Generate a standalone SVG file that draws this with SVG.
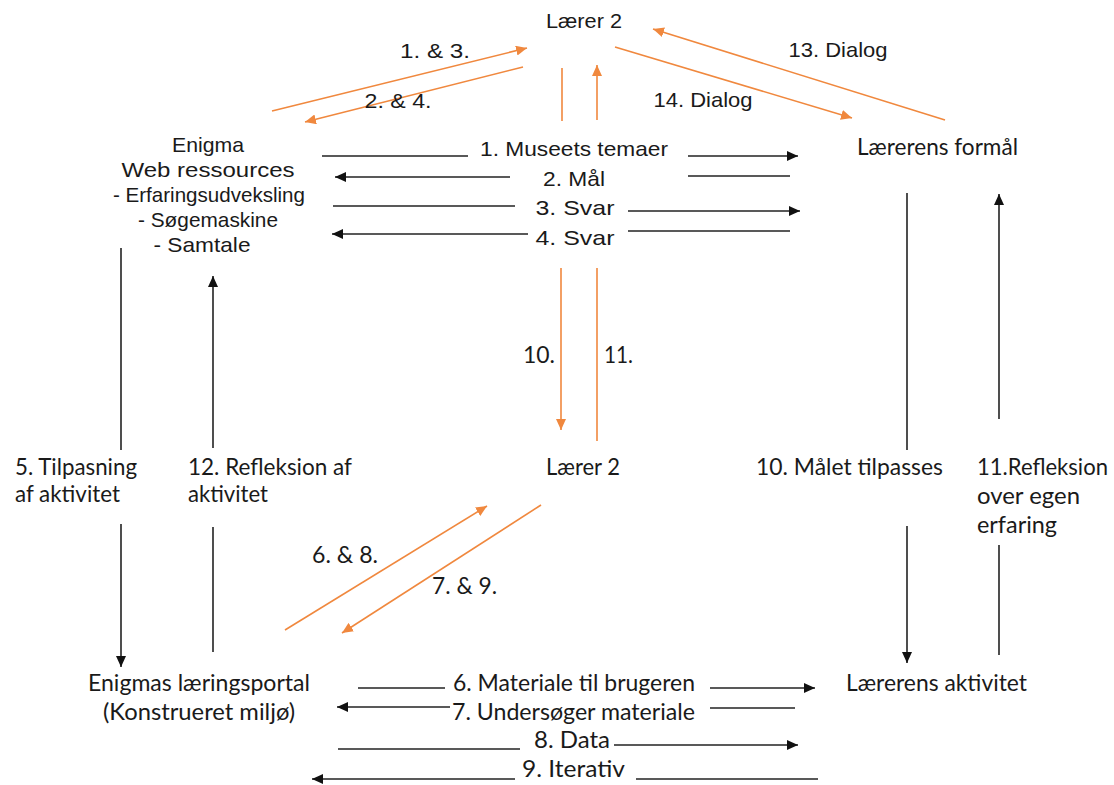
<svg xmlns="http://www.w3.org/2000/svg" width="1114" height="785" viewBox="0 0 1114 785">
<style>
.h{font-family:"Liberation Sans",Arial,sans-serif;font-size:21px;fill:#1a1a1a}
.c{font-family:Lato,"Open Sans",sans-serif;font-size:23px;fill:#1a1a1a}
.m{text-anchor:middle}
.k{stroke:#222;stroke-width:1.6;fill:none}
.o{stroke:#F0883E;stroke-width:1.6;fill:none}
.ak{marker-end:url(#ah)}
.ao{marker-end:url(#ahO)}
</style>
<defs>
<marker id="ah" markerUnits="userSpaceOnUse" markerWidth="12" markerHeight="10" refX="11" refY="5" orient="auto"><path d="M0,0 L11,5 L0,10 z" fill="#111"/></marker>
<marker id="ahO" markerUnits="userSpaceOnUse" markerWidth="12" markerHeight="10" refX="11" refY="5" orient="auto"><path d="M0,0 L11,5 L0,10 z" fill="#F0883E"/></marker>
</defs>
<rect width="1114" height="785" fill="#fff"/>

<g id="connectors">
  <line class="o ao" x1="272" y1="111" x2="527" y2="48"/>
  <line class="o ao" x1="523" y1="67" x2="305" y2="122"/>
  <line class="o" x1="562" y1="68" x2="562" y2="121"/>
  <line class="o ao" x1="597" y1="120" x2="597" y2="65"/>
  <line class="o ao" x1="615" y1="47" x2="852" y2="118"/>
  <line class="o ao" x1="945" y1="120" x2="653" y2="29"/>
  <line class="o ao" x1="561" y1="268" x2="561" y2="430"/>
  <line class="o" x1="597" y1="268" x2="597" y2="441"/>
  <line class="o ao" x1="285" y1="630" x2="487" y2="506"/>
  <line class="o ao" x1="541" y1="505" x2="342" y2="633"/>
  <line class="k" x1="322" y1="156" x2="468" y2="156"/>
  <line class="k ak" x1="688" y1="156" x2="798" y2="156"/>
  <line class="k ak" x1="510" y1="177" x2="335" y2="177"/>
  <line class="k" x1="688" y1="176" x2="790" y2="176"/>
  <line class="k" x1="333" y1="206" x2="515" y2="206"/>
  <line class="k ak" x1="628" y1="211" x2="800" y2="211"/>
  <line class="k ak" x1="528" y1="234" x2="332" y2="234"/>
  <line class="k" x1="628" y1="231" x2="790" y2="231"/>
  <line class="k" x1="121" y1="248" x2="121" y2="450"/>
  <line class="k ak" x1="213" y1="448" x2="213" y2="276"/>
  <line class="k" x1="907" y1="193" x2="907" y2="450"/>
  <line class="k ak" x1="999" y1="419" x2="999" y2="194"/>
  <line class="k ak" x1="121" y1="524" x2="121" y2="667"/>
  <line class="k" x1="213" y1="527" x2="213" y2="652"/>
  <line class="k ak" x1="907" y1="526" x2="907" y2="663"/>
  <line class="k" x1="999" y1="545" x2="999" y2="655"/>
  <line class="k" x1="358" y1="688" x2="445" y2="688"/>
  <line class="k ak" x1="710" y1="688" x2="815" y2="688"/>
  <line class="k ak" x1="450" y1="707" x2="337" y2="707"/>
  <line class="k" x1="710" y1="708" x2="795" y2="708"/>
  <line class="k" x1="338" y1="749" x2="520" y2="749"/>
  <line class="k ak" x1="614" y1="745" x2="798" y2="745"/>
  <line class="k ak" x1="515" y1="779" x2="312" y2="779"/>
  <line class="k" x1="636" y1="779" x2="818" y2="779"/>
</g>

<g id="edge-labels">
  <text class="h m" x="435" y="58" textLength="70" lengthAdjust="spacingAndGlyphs">1. &amp; 3.</text>
  <text class="h m" x="398" y="108" textLength="67" lengthAdjust="spacingAndGlyphs">2. &amp; 4.</text>
  <text class="h m" x="838" y="57" textLength="99" lengthAdjust="spacingAndGlyphs">13. Dialog</text>
  <text class="h m" x="703" y="107" textLength="99" lengthAdjust="spacingAndGlyphs">14. Dialog</text>
  <text class="h m" x="574" y="156" textLength="188" lengthAdjust="spacingAndGlyphs">1. Museets temaer</text>
  <text class="h m" x="574" y="186" textLength="62" lengthAdjust="spacingAndGlyphs">2. Mål</text>
  <text class="h m" x="575" y="215" textLength="79" lengthAdjust="spacingAndGlyphs">3. Svar</text>
  <text class="h m" x="575" y="245" textLength="79" lengthAdjust="spacingAndGlyphs">4. Svar</text>
  <text class="c" x="523" y="363" textLength="32" lengthAdjust="spacingAndGlyphs">10.</text>
  <text class="c" x="604" y="363" textLength="29" lengthAdjust="spacingAndGlyphs">11.</text>
  <text class="c" x="15" y="475" textLength="122" lengthAdjust="spacingAndGlyphs">5. Tilpasning</text>
  <text class="c" x="15" y="502" textLength="105" lengthAdjust="spacingAndGlyphs">af aktivitet</text>
  <text class="c" x="188" y="475" textLength="164" lengthAdjust="spacingAndGlyphs">12. Refleksion af</text>
  <text class="c" x="188" y="502" textLength="80" lengthAdjust="spacingAndGlyphs">aktivitet</text>
  <text class="c" x="756" y="475" textLength="187" lengthAdjust="spacingAndGlyphs">10. Målet tilpasses</text>
  <text class="c" x="977" y="475" textLength="131" lengthAdjust="spacingAndGlyphs">11.Refleksion</text>
  <text class="c" x="977" y="504" textLength="103" lengthAdjust="spacingAndGlyphs">over egen</text>
  <text class="c" x="977" y="533" textLength="80" lengthAdjust="spacingAndGlyphs">erfaring</text>
  <text class="c" x="312" y="563" textLength="66" lengthAdjust="spacingAndGlyphs">6. &amp; 8.</text>
  <text class="c" x="432" y="594" textLength="65" lengthAdjust="spacingAndGlyphs">7. &amp; 9.</text>
  <text class="c" x="453" y="691" textLength="242" lengthAdjust="spacingAndGlyphs">6. Materiale til brugeren</text>
  <text class="c" x="452" y="720" textLength="243" lengthAdjust="spacingAndGlyphs">7. Undersøger materiale</text>
  <text class="c" x="534" y="748" textLength="76" lengthAdjust="spacingAndGlyphs">8. Data</text>
  <text class="c" x="522" y="777" textLength="103" lengthAdjust="spacingAndGlyphs">9. Iterativ</text>
</g>

<g id="laerer2-top">
  <text class="h m" x="584" y="28" textLength="76" lengthAdjust="spacingAndGlyphs">Lærer 2</text>
</g>
<g id="enigma-web">
  <text class="h m" x="208" y="152" textLength="72" lengthAdjust="spacingAndGlyphs">Enigma</text>
  <text class="h m" x="208" y="177" textLength="173" lengthAdjust="spacingAndGlyphs">Web ressources</text>
  <text class="h m" x="209" y="202" textLength="192" lengthAdjust="spacingAndGlyphs">- Erfaringsudveksling</text>
  <text class="h m" x="208" y="227" textLength="140" lengthAdjust="spacingAndGlyphs">- Søgemaskine</text>
  <text class="h m" x="202" y="252" textLength="97" lengthAdjust="spacingAndGlyphs">- Samtale</text>
</g>
<g id="laererens-formaal">
  <text class="c" x="857" y="155" textLength="161" lengthAdjust="spacingAndGlyphs">Lærerens formål</text>
</g>
<g id="laerer2-mid">
  <text class="c" x="546" y="475" textLength="74" lengthAdjust="spacingAndGlyphs">Lærer 2</text>
</g>
<g id="enigmas-portal">
  <text class="c" x="88" y="691" textLength="222" lengthAdjust="spacingAndGlyphs">Enigmas læringsportal</text>
  <text class="c" x="103" y="720" textLength="192" lengthAdjust="spacingAndGlyphs">(Konstrueret miljø)</text>
</g>
<g id="laererens-aktivitet">
  <text class="c" x="846" y="691" textLength="181" lengthAdjust="spacingAndGlyphs">Lærerens aktivitet</text>
</g>
</svg>
